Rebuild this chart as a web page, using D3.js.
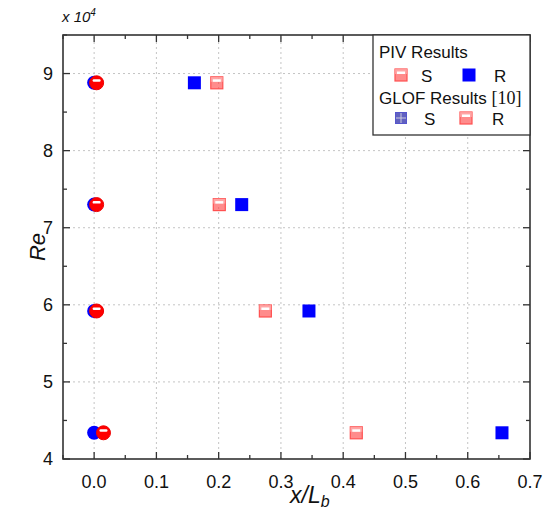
<!DOCTYPE html>
<html>
<head>
<meta charset="utf-8">
<script src="https://cdn.jsdelivr.net/npm/d3@7"></script>
<style>
  body { margin: 0; background: #fff; }
  text { font-family: "Liberation Sans", Arial, sans-serif; }
</style>
</head>
<body>
<svg id="chart" width="543" height="515"></svg>
<script>
// Re values (x 10^4) shared by all series
var reValues = [8.88, 7.30, 5.92, 4.34]
var glofS = [0.000, 0.000, 0.000, 0.000]
var glofR = [0.004, 0.004, 0.004, 0.015]
var pivS = [0.197, 0.201, 0.275, 0.421]
var pivR = [0.161, 0.237, 0.345, 0.655]
var xTicks = [0, 0.1, 0.2, 0.3, 0.4, 0.5, 0.6, 0.7]
var yTicks = [4, 5, 6, 7, 8, 9]

var svg = d3.select("#chart")
const margin = { top: 35, right: 13, bottom: 56, left: 63 }
var W = 543, H = 515
var x = d3.scaleLinear().domain([-0.05, 0.7]).range([margin.left, W - margin.right])
var y = d3.scaleLinear().domain([4, 9.5]).range([H - margin.bottom, margin.top])
var x0 = margin.left, x1 = W - margin.right, y0 = H - margin.bottom, y1 = margin.top

// grid
svg.append("g").selectAll("line").data(xTicks.slice(0, -1)).join("line")
  .attr("x1", d => x(d)).attr("x2", d => x(d)).attr("y1", y0).attr("y2", y1)
  .attr("stroke", "#c4c4c4").attr("stroke-dasharray", "2,3")
svg.append("g").selectAll("line").data(yTicks.slice(1)).join("line")
  .attr("x1", x0).attr("x2", x1).attr("y1", d => y(d)).attr("y2", d => y(d))
  .attr("stroke", "#c4c4c4").attr("stroke-dasharray", "2,3")

// axes (ticks inward, mirrored on top/right)
var xMinor = d3.range(-0.05, 0.701, 0.05).filter(d => Math.abs(Math.round(d * 10) - d * 10) > 0.01)
var yMinor = d3.range(4.5, 9.6, 1)
function tickSet(data, len, horiz) {
  var g = svg.append("g").attr("stroke", "#333").attr("stroke-width", 1.3)
  data.forEach(d => {
    if (horiz) {
      g.append("line").attr("x1", x(d)).attr("x2", x(d)).attr("y1", y0).attr("y2", y0 - len)
      g.append("line").attr("x1", x(d)).attr("x2", x(d)).attr("y1", y1).attr("y2", y1 + len)
    } else {
      g.append("line").attr("y1", y(d)).attr("y2", y(d)).attr("x1", x0).attr("x2", x0 + len)
      g.append("line").attr("y1", y(d)).attr("y2", y(d)).attr("x1", x1).attr("x2", x1 - len)
    }
  })
}
tickSet(xTicks, 7, true)
tickSet(xMinor, 4, true)
tickSet(yTicks, 7, false)
tickSet(yMinor, 4, false)

svg.append("rect").attr("x", x0).attr("y", y1).attr("width", x1 - x0).attr("height", y0 - y1)
  .attr("fill", "none").attr("stroke", "#333").attr("stroke-width", 1.6)

svg.append("g").selectAll("text").data(xTicks).join("text")
  .attr("x", d => x(d)).attr("y", y0 + 29).attr("text-anchor", "middle")
  .attr("font-size", 18).attr("fill", "#111").text(d => d.toFixed(1))
svg.append("g").selectAll("text").data(yTicks).join("text")
  .attr("x", x0 - 10).attr("y", d => y(d) + 6).attr("text-anchor", "end")
  .attr("font-size", 18).attr("fill", "#111").text(d => d)

svg.append("text").attr("x", 62).attr("y", 22).attr("font-size", 15).attr("font-style", "italic")
  .attr("fill", "#111").html('x 10<tspan dy="-6" font-size="10">4</tspan>')
svg.append("text").attr("transform", "translate(45,247) rotate(-90)").attr("text-anchor", "middle")
  .attr("font-size", 22).attr("font-style", "italic").attr("fill", "#111").text("Re")
svg.append("text").attr("x", 290).attr("y", 503).attr("font-family", "Liberation Serif, Times New Roman, serif")
  .attr("font-size", 23).attr("font-style", "italic").attr("fill", "#111")
  .html('x/L<tspan dy="4" font-size="16">b</tspan>')

// marker drawers
function redCircle(g, cx, cy) {
  g.append("circle").attr("cx", cx).attr("cy", cy).attr("r", 7).attr("fill", "#ff0000").attr("stroke", "#ee0000")
  g.append("rect").attr("x", cx - 4).attr("y", cy - 3.5).attr("width", 8).attr("height", 2.5).attr("rx", 1.2).attr("fill", "#fff")
}
function blueCircle(g, cx, cy) {
  g.append("circle").attr("cx", cx).attr("cy", cy).attr("r", 7).attr("fill", "#0000ff")
}
function stripeSquare(g, cx, cy) {
  g.append("rect").attr("x", cx - 6).attr("y", cy - 6).attr("width", 12).attr("height", 12)
    .attr("fill", "#ff4040").attr("fill-opacity", 0.6).attr("stroke", "#ff5050").attr("stroke-width", 1.2)
  g.append("rect").attr("x", cx - 6).attr("y", cy - 6).attr("width", 12).attr("height", 5).attr("fill", "#ffb0b0").attr("fill-opacity", 0.7)
  g.append("rect").attr("x", cx - 4).attr("y", cy - 3.5).attr("width", 8).attr("height", 2.5).attr("fill", "#fff")
}
function blueSquare(g, cx, cy) {
  g.append("rect").attr("x", cx - 6.5).attr("y", cy - 6.5).attr("width", 13).attr("height", 13).attr("fill", "#0000ff")
}
function crossSquare(g, cx, cy) {
  g.append("rect").attr("x", cx - 5.5).attr("y", cy - 5.5).attr("width", 11).attr("height", 11)
    .attr("fill", "#3a3ab0").attr("fill-opacity", 0.8).attr("stroke", "#5555cc")
  g.append("line").attr("x1", cx).attr("x2", cx).attr("y1", cy - 5).attr("y2", cy + 5).attr("stroke", "#ccd").attr("stroke-width", 1)
  g.append("line").attr("y1", cy).attr("y2", cy).attr("x1", cx - 5).attr("x2", cx + 5).attr("stroke", "#ccd").attr("stroke-width", 1)
}

var marks = svg.append("g")
reValues.forEach((re, i) => {
  blueCircle(marks, x(glofS[i]), y(re))
  redCircle(marks, x(glofR[i]), y(re))
  stripeSquare(marks, x(pivS[i]), y(re))
  blueSquare(marks, x(pivR[i]), y(re))
})

// legend
var lg = svg.append("g")
lg.append("rect").attr("x", 373).attr("y", y1).attr("width", x1 - 373).attr("height", 100)
  .attr("fill", "#fff").attr("stroke", "#333").attr("stroke-width", 1.3)
lg.append("text").attr("x", 379).attr("y", 58).attr("font-size", 17).attr("fill", "#111").text("PIV Results")
stripeSquare(lg, 401, 75)
lg.append("text").attr("x", 421).attr("y", 82).attr("font-size", 17).attr("fill", "#111").text("S")
blueSquare(lg, 469, 75)
lg.append("text").attr("x", 494).attr("y", 82).attr("font-size", 17).attr("fill", "#111").text("R")
lg.append("text").attr("x", 379).attr("y", 104).attr("font-size", 17).attr("fill", "#111")
  .html('GLOF Results <tspan font-family="Liberation Serif, Times New Roman, serif" font-size="18">[10]</tspan>')
crossSquare(lg, 401, 118)
lg.append("text").attr("x", 424).attr("y", 125).attr("font-size", 17).attr("fill", "#111").text("S")
stripeSquare(lg, 466, 118)
lg.append("text").attr("x", 492).attr("y", 125).attr("font-size", 17).attr("fill", "#111").text("R")
</script>
</body>
</html>
